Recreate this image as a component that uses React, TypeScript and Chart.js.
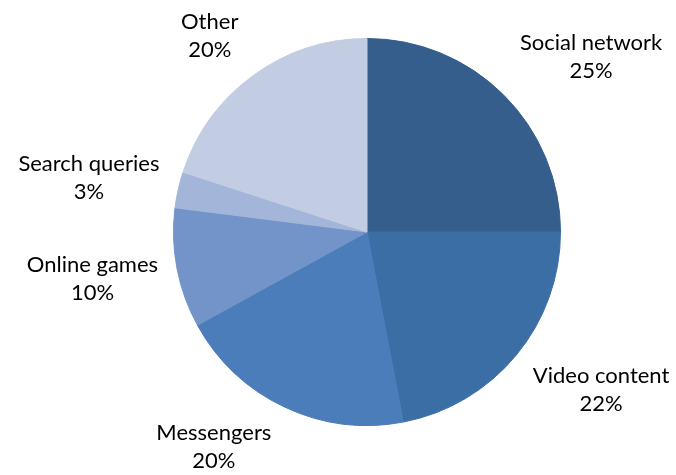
import React, { useEffect, useRef } from "react";
import { Chart, registerables } from "chart.js";

Chart.register(...registerables);

const categories = ["Social network", "Video content", "Messengers", "Online games", "Search queries", "Other"];
const shares = [25, 22, 20, 10, 3, 20];
const colors = ["#365E8C", "#3A6EA5", "#4A7DBA", "#7294C9", "#A3B6DA", "#C2CDE3"];

const FONT = "22px Lato, 'Liberation Sans', sans-serif";
const LINE_H = 28;

const labelPlugin = {
  id: "outsideLabels",
  afterDatasetsDraw(chart: any) {
    const ctx = chart.ctx;
    const meta = chart.getDatasetMeta(0);
    ctx.save();
    ctx.font = FONT;
    ctx.fillStyle = "#000";
    ctx.textAlign = "center";
    ctx.textBaseline = "middle";
    meta.data.forEach((arc: any, i: number) => {
      const { x, y, startAngle, endAngle, outerRadius } = arc.getProps(
        ["x", "y", "startAngle", "endAngle", "outerRadius"],
        true
      );
      const mid = (startAngle + endAngle) / 2;
      const c = Math.cos(mid);
      const s = Math.sin(mid);
      const ax = x + (outerRadius + 10) * c;
      const ay = y + (outerRadius + 10) * s;
      const lines = [categories[i], shares[i] + "%"];
      const w = Math.max(...lines.map((l) => ctx.measureText(l).width));
      const h = LINE_H * lines.length;
      const kx = Math.max(-1, Math.min(1, c / 0.3));
      const ky = Math.max(-1, Math.min(1, s / 0.7));
      const cx = ax + kx * (w / 2 + 9);
      const cy = ay + ky * (h / 2 + 3);
      lines.forEach((l, j) => {
        ctx.fillText(l, cx, cy - h / 2 + LINE_H * (j + 0.5));
      });
    });
    ctx.restore();
  },
};

export default function App() {
  const ref = useRef<HTMLCanvasElement>(null);
  useEffect(() => {
    if (!ref.current) return;
    const chart = new Chart(ref.current, {
      type: "pie",
      data: {
        labels: categories,
        datasets: [
          {
            data: shares,
            backgroundColor: colors,
            borderColor: colors,
            borderWidth: 1,
          },
        ],
      },
      options: {
        responsive: false,
        animation: false,
        devicePixelRatio: 1,
        layout: { padding: { top: 38, bottom: 49, left: 173, right: 115 } },
        plugins: { legend: { display: false }, tooltip: { enabled: false } },
      },
      plugins: [labelPlugin],
    });
    return () => chart.destroy();
  }, []);
  return (
    <div style={{ position: "fixed", left: 0, top: 0, width: 676, height: 475, background: "#fff" }}>
      <canvas ref={ref} width={676} height={475} />
    </div>
  );
}
